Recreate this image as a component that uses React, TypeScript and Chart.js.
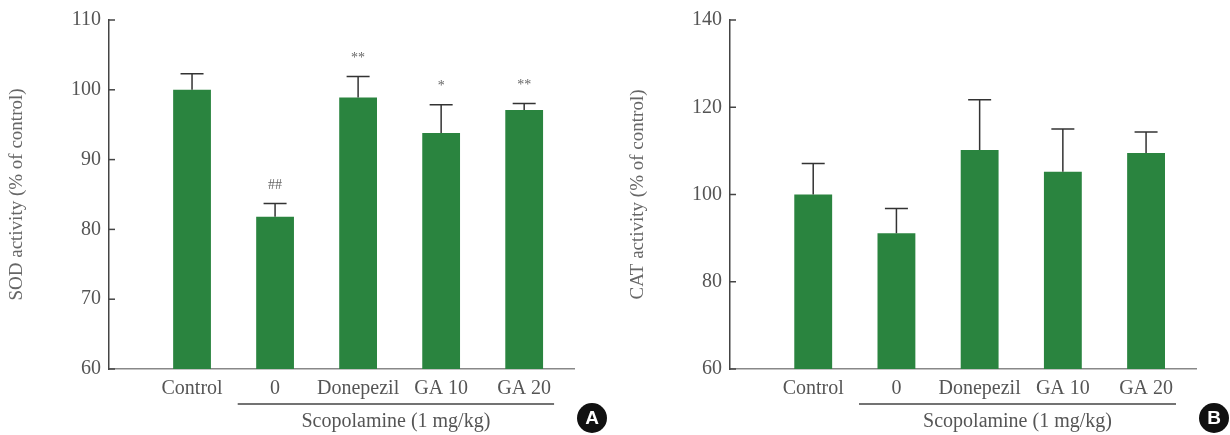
import React, { useEffect, useRef } from 'react';
import { Chart, registerables } from 'chart.js';

Chart.register(...registerables);

// ---- data ----
const categories = ['Control', '0', 'Donepezil', 'GA 10', 'GA 20'];
const sodMean = [100, 81.8, 98.9, 93.8, 97.1];
const sodErr = [2.3, 1.9, 3.0, 4.05, 0.95];
const sodSig = ['', '##', '**', '*', '**'];
const catMean = [100, 91.1, 110.2, 105.2, 109.5];
const catErr = [7.1, 5.7, 11.5, 9.8, 4.8];
const catSig = ['', '', '', '', ''];
const groupLabel = 'Scopolamine (1 mg/kg)';
const sodTitle = 'SOD activity (% of control)';
const catTitle = 'CAT activity (% of control)';

const GREEN = '#2a843f';
const SERIF = '"Liberation Serif", "Times New Roman", serif';

const extrasPlugin = {
  id: 'extras',
  afterDatasetsDraw(chart: any, _args: any, o: any) {
    const ctx = chart.ctx;
    const xs = chart.scales.x;
    const ys = chart.scales.y;
    const ca = chart.chartArea;
    ctx.save();
    ctx.lineCap = 'butt';
    // error bars + significance marks
    o.means.forEach((m: number, i: number) => {
      const x = xs.getPixelForValue(i + 1);
      const y0 = ys.getPixelForValue(m);
      const y1 = ys.getPixelForValue(m + o.errs[i]);
      ctx.strokeStyle = '#333';
      ctx.lineWidth = 1.5;
      ctx.beginPath();
      ctx.moveTo(x, y0);
      ctx.lineTo(x, y1);
      ctx.moveTo(x - 11.5, y1);
      ctx.lineTo(x + 11.5, y1);
      ctx.stroke();
      if (o.sig && o.sig[i]) {
        ctx.fillStyle = '#666';
        ctx.font = '14px ' + SERIF;
        ctx.textAlign = 'center';
        ctx.textBaseline = 'middle';
        ctx.fillText(o.sig[i], x, y1 - 18);
      }
    });
    // inner y ticks
    ctx.strokeStyle = '#444';
    ctx.lineWidth = 1.5;
    ys.ticks.forEach((t: any) => {
      const y = ys.getPixelForValue(t.value);
      ctx.beginPath();
      ctx.moveTo(ca.left, y);
      ctx.lineTo(ca.left + 6, y);
      ctx.stroke();
    });
    // group line & label
    const gx0 = xs.getPixelForValue(1.55);
    const gx1 = xs.getPixelForValue(5.36);
    const gy = ca.bottom + 35;
    ctx.strokeStyle = '#444';
    ctx.lineWidth = 1.5;
    ctx.beginPath();
    ctx.moveTo(gx0, gy);
    ctx.lineTo(gx1, gy);
    ctx.stroke();
    ctx.fillStyle = '#555';
    ctx.font = '20px ' + SERIF;
    ctx.textAlign = 'center';
    ctx.textBaseline = 'middle';
    ctx.fillText(o.group, (gx0 + gx1) / 2, ca.bottom + 53);
    // panel letter
    const cx = ca.right + 18;
    const cy = ca.bottom + 49;
    ctx.fillStyle = '#111';
    ctx.beginPath();
    ctx.arc(cx, cy, 15, 0, Math.PI * 2);
    ctx.fill();
    ctx.fillStyle = '#fff';
    ctx.font = 'bold 19px "Liberation Sans", Arial, sans-serif';
    ctx.fillText(o.letter, cx, cy + 1);
    ctx.restore();
  },
};

function makeChart(canvas: HTMLCanvasElement, cfg: any) {
  return new Chart(canvas, {
    type: 'bar',
    data: {
      datasets: [
        {
          data: cfg.means.map((v: number, i: number) => ({ x: i + 1, y: v })),
          backgroundColor: GREEN,
          borderWidth: 0,
          barPercentage: 0.455,
          categoryPercentage: 1,
        },
      ],
    },
    options: {
      animation: false,
      responsive: false,
      maintainAspectRatio: false,
      layout: { padding: { left: 0, top: cfg.top, right: cfg.right, bottom: 0 } },
      plugins: {
        legend: { display: false },
        tooltip: { enabled: false },
        extras: { means: cfg.means, errs: cfg.errs, sig: cfg.sig, group: groupLabel, letter: cfg.letter },
      } as any,
      scales: {
        x: {
          type: 'linear',
          offset: false,
          min: 0,
          max: 5.6,
          afterFit: (s: any) => {
            s.height = 66;
          },
          border: { color: '#888', width: 1.5 },
          grid: { display: false, drawTicks: false },
          ticks: {
            stepSize: 1,
            includeBounds: false,
            autoSkip: false,
            maxRotation: 0,
            padding: 8,
            color: '#555',
            font: { family: SERIF, size: 20 },
            callback: (v: any) => (v >= 1 && v <= categories.length && Number.isInteger(v) ? categories[v - 1] : ''),
          },
        },
        y: {
          min: cfg.min,
          max: cfg.max,
          afterFit: (s: any) => {
            s.width = 109;
          },
          border: { color: '#444', width: 1.5 },
          grid: { display: false, drawTicks: false },
          ticks: {
            stepSize: cfg.step,
            padding: 8,
            color: '#555',
            font: { family: SERIF, size: 20 },
          },
          title: {
            display: true,
            text: cfg.title,
            color: '#666',
            font: { family: SERIF, size: 19 },
            padding: { top: 6, bottom: 0 },
          },
        },
      },
    },
    plugins: [extrasPlugin as any],
  });
}

export default function App() {
  const leftRef = useRef<HTMLCanvasElement>(null);
  const rightRef = useRef<HTMLCanvasElement>(null);

  useEffect(() => {
    const a = makeChart(leftRef.current!, {
      means: sodMean,
      errs: sodErr,
      sig: sodSig,
      min: 60,
      max: 110,
      step: 10,
      title: sodTitle,
      letter: 'A',
      top: 19,
      right: 35,
    });
    const b = makeChart(rightRef.current!, {
      means: catMean,
      errs: catErr,
      sig: catSig,
      min: 60,
      max: 140,
      step: 20,
      title: catTitle,
      letter: 'B',
      top: 20,
      right: 34,
    });
    return () => {
      a.destroy();
      b.destroy();
    };
  }, []);

  return (
    <div style={{ position: 'fixed', left: 0, top: 0, width: 1230, height: 435, background: '#fff' }}>
      <canvas ref={leftRef} width={609} height={435} style={{ position: 'absolute', left: 0, top: 0, width: 609, height: 435 }} />
      <canvas ref={rightRef} width={609} height={435} style={{ position: 'absolute', left: 621, top: 0, width: 609, height: 435 }} />
    </div>
  );
}
